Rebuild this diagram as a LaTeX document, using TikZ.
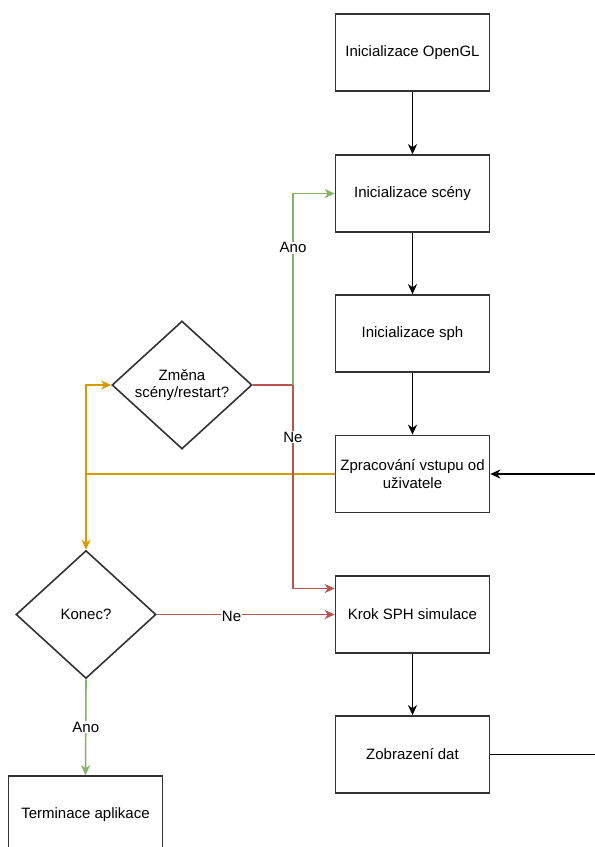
\documentclass[tikz,border=0pt]{standalone}
\usepackage{fontspec}
\setmainfont{Liberation Sans}
\usetikzlibrary{shapes.geometric,arrows.meta}
\definecolor{grn}{HTML}{82B366}
\definecolor{rd}{HTML}{B85450}
\definecolor{org}{HTML}{D79B00}
\definecolor{edge}{HTML}{333333}
\tikzset{
  box/.style={draw=edge, line width=1.6pt, fill=white, minimum width=154pt, minimum height=77pt, inner sep=0pt, align=center, font=\fontsize{15}{17.5}\selectfont},
  dec/.style={draw=edge, line width=1.6pt, diamond, fill=white, minimum width=140pt, minimum height=128pt, inner sep=0pt, align=center, font=\fontsize{15}{17.5}\selectfont},
  conn/.style={line width=1.6pt},
  tip/.style={-{Stealth[length=10pt,width=9pt,inset=3pt]}},
  lbl/.style={fill=white, inner sep=1pt, font=\fontsize{15}{17.5}\selectfont}
}
\begin{document}
\begin{tikzpicture}[x=1pt,y=-1pt]
\useasboundingbox (0,0) rectangle (595,847);
\clip (0,0) rectangle (595,847);
\node[box] (b1) at (412.5,52.5) {Inicializace OpenGL};
\node[box] (b2) at (412.5,193.5) {Inicializace scény};
\node[box] (b3) at (412.5,333.5) {Inicializace sph};
\node[box] (b4) at (412.5,474) {Zpracování vstupu od\\uživatele};
\node[box] (b5) at (412.5,614.5) {Krok SPH simulace};
\node[box] (b6) at (412.5,754.5) {Zobrazení dat};
\node[box] (t) at (85.5,814.5) {Terminace aplikace};
\node[dec] (d1) at (182,385) {Změna\\scény/restart?};
\node[dec] (d2) at (86,614.5) {Konec?};
\coordinate (j) at (293,385);
\coordinate (k) at (86,474);
\coordinate (e1) at (596,754.5);
\coordinate (e2) at (596,474);
% black flow
\draw[conn,tip] (b1) -- (b2);
\draw[conn,tip] (b2) -- (b3);
\draw[conn,tip] (b3) -- (b4);
\draw[conn,tip] (b5) -- (b6);
\draw[conn] (b6.east) -- (e1);
\draw[conn,tip] (e2) -- (b4.east);
% orange
\draw[conn,org] (b4.west) -- (k);
\draw[conn,org,tip] (k) |- (d1.west);
\draw[conn,org,tip] (k) -- (d2.north);
% red
\draw[conn,rd] (d1.east) -- (j);
\draw[conn,rd,tip] (j) |- ([yshift=26pt]b5.west) node[pos=0.128,lbl,text=black] {Ne};
\draw[conn,rd,tip] (d2.east) -- (b5.west) node[pos=0.42,lbl,text=black,yshift=-2pt] {Ne};
% green
\draw[conn,grn,tip] (j) |- (b2.west) node[pos=0.358,lbl,text=black] {Ano};
\draw[conn,grn,tip] (d2.south) -- (t.north) node[midway,lbl,text=black] {Ano};
\end{tikzpicture}
\end{document}
